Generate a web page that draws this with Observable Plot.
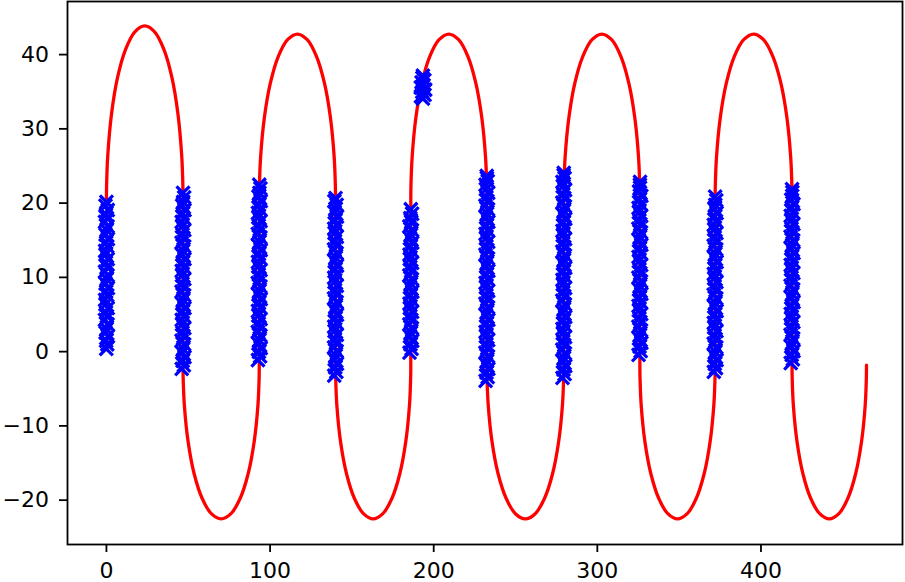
<!DOCTYPE html>
<html>
<head>
<meta charset="utf-8">
<script src="https://cdn.jsdelivr.net/npm/d3@7"></script>
<script src="https://cdn.jsdelivr.net/npm/@observablehq/plot@0.6"></script>
<style>
  html, body { margin: 0; padding: 0; background: #fff; }
  #chart { width: 905px; height: 582px; }
</style>
</head>
<body>
<div id="chart"></div>
<script>
// Red path (half-ellipse arcs), x values
const redX = [
  0, 0.09, 0.80, 3.14, 6.83, 11.70, 17.36, 23.40, 29.44, 35.10, 39.97, 43.66, 46.00, 46.71, 46.8,
  46.8, 46.89, 47.59, 49.92, 53.60, 58.45, 64.09, 70.1, 76.11, 81.75, 86.60, 90.28, 92.61, 93.31, 93.4,
  93.4, 93.49, 94.19, 96.52, 100.20, 105.05, 110.69, 116.7, 122.71, 128.35, 133.20, 136.88, 139.21, 139.91, 140.0,
  140, 140.09, 140.78, 143.08, 146.72, 151.5, 157.07, 163, 168.93, 174.5, 179.28, 182.92, 185.22, 185.91, 186,
  186, 186.09, 186.79, 189.12, 192.79, 197.63, 203.25, 209.25, 215.25, 220.88, 225.71, 229.38, 231.71, 232.41, 232.5,
  232.5, 232.59, 233.3, 235.65, 239.36, 244.25, 249.94, 256, 262.06, 267.75, 272.64, 276.35, 278.7, 279.41, 279.5,
  279.5, 279.59, 280.29, 282.62, 286.29, 291.13, 296.75, 302.75, 308.75, 314.38, 319.21, 322.88, 325.21, 325.91, 326,
  326, 326.09, 326.78, 329.08, 332.72, 337.5, 343.07, 349, 354.93, 360.5, 365.28, 368.92, 371.22, 371.91, 372,
  372, 372.09, 372.8, 375.15, 378.86, 383.75, 389.44, 395.5, 401.56, 407.25, 412.14, 415.85, 418.2, 418.91, 419,
  419, 419.09, 419.77, 422.05, 425.64, 430.38, 435.88, 441.75, 447.62, 453.13, 457.86, 461.45, 463.73, 464.41, 464.5
];
const redY = [
  20, 22.05, 26.11, 31.8, 36.69, 40.44, 42.8, 43.6, 42.8, 40.44, 36.69, 31.8, 26.11, 22.05, 20,
  -2, -3.81, -7.39, -12.4, -16.71, -20.01, -22.09, -22.8, -22.09, -20.01, -16.71, -12.4, -7.39, -3.81, -2,
  20, 21.96, 25.83, 31.25, 35.91, 39.49, 41.74, 42.5, 41.74, 39.49, 35.91, 31.25, 25.83, 21.96, 20,
  -2, -3.81, -7.39, -12.4, -16.71, -20.01, -22.09, -22.8, -22.09, -20.01, -16.71, -12.4, -7.39, -3.81, -2,
  20, 21.96, 25.83, 31.25, 35.91, 39.49, 41.74, 42.5, 41.74, 39.49, 35.91, 31.25, 25.83, 21.96, 20,
  -2, -3.81, -7.39, -12.4, -16.71, -20.01, -22.09, -22.8, -22.09, -20.01, -16.71, -12.4, -7.39, -3.81, -2,
  20, 21.96, 25.83, 31.25, 35.91, 39.49, 41.74, 42.5, 41.74, 39.49, 35.91, 31.25, 25.83, 21.96, 20,
  -2, -3.81, -7.39, -12.4, -16.71, -20.01, -22.09, -22.8, -22.09, -20.01, -16.71, -12.4, -7.39, -3.81, -2,
  20, 21.96, 25.83, 31.25, 35.91, 39.49, 41.74, 42.5, 41.74, 39.49, 35.91, 31.25, 25.83, 21.96, 20,
  -2, -3.81, -7.39, -12.4, -16.71, -20.01, -22.09, -22.8, -22.09, -20.01, -16.71, -12.4, -7.39, -3.81, -2.1
];

// Blue "x" marker clusters [x, y]
const cluster1 = [[-0.1,0.1],[0.5,0.7],[-0.2,1.2],[0.9,1.8],[-0.5,2.3],[0.1,2.8],[0.7,3.4],[-0.9,4.0],[0.3,4.5],[-0.3,5.0],[0.8,5.6],[-0.6,6.1],
  [-0.8,6.7],[0.5,7.3],[-0.2,7.8],[0.9,8.3],[-0.5,8.9],[0.1,9.5],[0.7,10.0],[-0.9,10.5],[0.3,11.1],[-0.3,11.7],[0.8,12.2],[-0.6,12.8],
  [-0.8,13.3],[0.5,13.9],[-0.2,14.4],[0.9,14.9],[-0.5,15.5],[0.1,16.1],[0.7,16.6],[-0.9,17.2],[0.3,17.7],[-0.3,18.2],[0.8,18.8],[-0.6,19.4],[0.0,19.9]];
const cluster2 = [[46.0,-2.6],[47.3,-2.1],[46.6,-1.5],[47.7,-1.0],[46.3,-0.4],[46.9,0.1],[47.5,0.7],[45.9,1.2],[47.1,1.8],[46.5,2.3],[47.6,2.9],[46.2,3.4],
  [46.0,4.0],[47.3,4.5],[46.6,5.1],[47.7,5.6],[46.3,6.2],[46.9,6.7],[47.5,7.3],[45.9,7.8],[47.1,8.4],[46.5,8.9],[47.6,9.5],[46.2,10.0],
  [46.0,10.6],[47.3,11.1],[46.6,11.7],[47.7,12.2],[46.3,12.8],[46.9,13.3],[47.5,13.9],[45.9,14.4],[47.1,15.0],[46.5,15.5],[47.6,16.1],[46.2,16.6],
  [46.0,17.2],[47.3,17.7],[46.6,18.3],[47.7,18.8],[46.3,19.4],[46.9,19.9],[47.5,20.5],[46.8,21.1]];
const cluster3 = [[92.6,-1.4],[93.9,-0.9],[93.2,-0.3],[94.3,0.2],[92.9,0.8],[93.5,1.3],[94.1,1.9],[92.5,2.4],[93.7,3.0],[93.1,3.5],[94.2,4.1],[92.8,4.6],
  [92.6,5.2],[93.9,5.7],[93.2,6.3],[94.3,6.8],[92.9,7.4],[93.5,7.9],[94.1,8.5],[92.5,9.0],[93.7,9.6],[93.1,10.1],[94.2,10.7],[92.8,11.2],
  [92.6,11.8],[93.9,12.3],[93.2,12.9],[94.3,13.4],[92.9,14.0],[93.5,14.5],[94.1,15.1],[92.5,15.6],[93.7,16.2],[93.1,16.7],[94.2,17.3],[92.8,17.8],
  [92.6,18.4],[93.9,18.9],[93.2,19.5],[94.3,20.0],[92.9,20.6],[93.5,21.1],[94.1,21.7],[93.4,22.2]];
const cluster4 = [[139.2,-3.5],[140.5,-3.0],[139.8,-2.4],[140.9,-1.9],[139.5,-1.3],[140.1,-0.8],[140.7,-0.2],[139.1,0.3],[140.3,0.9],[139.7,1.4],[140.8,2.0],[139.4,2.5],
  [139.2,3.1],[140.5,3.6],[139.8,4.2],[140.9,4.7],[139.5,5.3],[140.1,5.8],[140.7,6.4],[139.1,6.9],[140.3,7.5],[139.7,8.0],[140.8,8.6],[139.4,9.1],
  [139.2,9.7],[140.5,10.2],[139.8,10.8],[140.9,11.3],[139.5,11.9],[140.1,12.4],[140.7,13.0],[139.1,13.5],[140.3,14.1],[139.7,14.6],[140.8,15.2],[139.4,15.7],
  [139.2,16.3],[140.5,16.8],[139.8,17.4],[140.9,17.9],[139.5,18.5],[140.1,19.0],[140.7,19.5],[139.3,20.0],[140.0,20.4]];
const cluster5 = [[185.2,-0.4],[186.5,0.1],[185.8,0.7],[186.9,1.2],[185.5,1.8],[186.1,2.3],[186.7,2.9],[185.1,3.4],[186.3,4.0],[185.7,4.5],[186.8,5.1],[185.4,5.6],
  [185.2,6.2],[186.5,6.7],[185.8,7.3],[186.9,7.8],[185.5,8.4],[186.1,8.9],[186.7,9.5],[185.1,10.0],[186.3,10.6],[185.7,11.1],[186.8,11.7],[185.4,12.2],
  [185.2,12.8],[186.5,13.3],[185.8,13.9],[186.9,14.4],[185.5,15.0],[186.1,15.5],[186.7,16.1],[185.1,16.6],[186.3,17.2],[185.7,17.7],[186.8,18.3],[186.0,18.9]];
const cluster6 = [[231.7,-4.2],[233.0,-3.7],[232.3,-3.1],[233.4,-2.6],[232.0,-2.0],[232.6,-1.5],[233.2,-0.9],[231.6,-0.4],[232.8,0.2],[232.2,0.7],[233.3,1.3],[231.9,1.8],
  [231.7,2.4],[233.0,2.9],[232.3,3.5],[233.4,4.0],[232.0,4.6],[232.6,5.1],[233.2,5.7],[231.6,6.2],[232.8,6.8],[232.2,7.3],[233.3,7.9],[231.9,8.4],
  [231.7,9.0],[233.0,9.5],[232.3,10.1],[233.4,10.6],[232.0,11.2],[232.6,11.7],[233.2,12.3],[231.6,12.8],[232.8,13.4],[232.2,13.9],[233.3,14.5],[231.9,15.0],
  [231.7,15.6],[233.0,16.1],[232.3,16.7],[233.4,17.2],[232.0,17.8],[232.6,18.3],[233.2,18.9],[231.6,19.4],[232.8,20.0],[232.2,20.5],[233.3,21.1],[231.9,21.6],
  [231.7,22.2],[233.0,22.7],[232.5,23.1],[232.4,23.4]];
const cluster7 = [[278.7,-3.8],[280.0,-3.3],[279.3,-2.7],[280.4,-2.2],[279.0,-1.6],[279.6,-1.1],[280.2,-0.5],[278.6,0.0],[279.8,0.6],[279.2,1.1],[280.3,1.7],[278.9,2.2],
  [278.7,2.8],[280.0,3.3],[279.3,3.9],[280.4,4.4],[279.0,5.0],[279.6,5.5],[280.2,6.1],[278.6,6.6],[279.8,7.2],[279.2,7.7],[280.3,8.3],[278.9,8.8],
  [278.7,9.4],[280.0,9.9],[279.3,10.5],[280.4,11.0],[279.0,11.6],[279.6,12.1],[280.2,12.7],[278.6,13.2],[279.8,13.8],[279.2,14.3],[280.3,14.9],[278.9,15.4],
  [278.7,16.0],[280.0,16.5],[279.3,17.1],[280.4,17.6],[279.0,18.2],[279.6,18.7],[280.2,19.3],[278.6,19.8],[279.8,20.4],[279.2,20.9],[280.3,21.5],[278.9,22.0],
  [278.7,22.6],[280.0,23.1],[279.4,23.5],[279.5,23.8]];
const cluster8 = [[325.2,-0.7],[326.5,-0.2],[325.8,0.4],[326.9,0.9],[325.5,1.5],[326.1,2.0],[326.7,2.6],[325.1,3.1],[326.3,3.7],[325.7,4.2],[326.8,4.8],[325.4,5.3],
  [325.2,5.9],[326.5,6.4],[325.8,7.0],[326.9,7.5],[325.5,8.1],[326.1,8.6],[326.7,9.2],[325.1,9.7],[326.3,10.3],[325.7,10.8],[326.8,11.4],[325.4,11.9],
  [325.2,12.5],[326.5,13.0],[325.8,13.6],[326.9,14.1],[325.5,14.7],[326.1,15.2],[326.7,15.8],[325.1,16.3],[326.3,16.9],[325.7,17.4],[326.8,18.0],[325.4,18.5],
  [325.2,19.1],[326.5,19.6],[325.8,20.2],[326.9,20.7],[325.5,21.3],[326.1,21.8],[326.0,22.2],[326.1,22.6]];
const cluster9 = [[371.2,-3.0],[372.5,-2.5],[371.8,-1.9],[372.9,-1.4],[371.5,-0.8],[372.1,-0.3],[372.7,0.3],[371.1,0.8],[372.3,1.4],[371.7,1.9],[372.8,2.5],[371.4,3.0],
  [371.2,3.6],[372.5,4.1],[371.8,4.7],[372.9,5.2],[371.5,5.8],[372.1,6.3],[372.7,6.9],[371.1,7.4],[372.3,8.0],[371.7,8.5],[372.8,9.1],[371.4,9.6],
  [371.2,10.2],[372.5,10.7],[371.8,11.3],[372.9,11.8],[371.5,12.4],[372.1,12.9],[372.7,13.5],[371.1,14.0],[372.3,14.6],[371.7,15.1],[372.8,15.7],[371.4,16.2],
  [371.2,16.8],[372.5,17.3],[371.8,17.9],[372.9,18.4],[371.5,19.0],[372.1,19.5],[372.7,20.1],[372.0,20.6]];
const cluster10 = [[418.2,-1.8],[419.5,-1.3],[418.8,-0.7],[419.9,-0.2],[418.5,0.4],[419.1,0.9],[419.7,1.5],[418.1,2.0],[419.3,2.6],[418.7,3.1],[419.8,3.7],[418.4,4.2],
  [418.2,4.8],[419.5,5.3],[418.8,5.9],[419.9,6.4],[418.5,7.0],[419.1,7.5],[419.7,8.1],[418.1,8.6],[419.3,9.2],[418.7,9.7],[419.8,10.3],[418.4,10.8],
  [418.2,11.4],[419.5,11.9],[418.8,12.5],[419.9,13.0],[418.5,13.6],[419.1,14.1],[419.7,14.7],[418.1,15.2],[419.3,15.8],[418.7,16.3],[419.8,16.9],[418.4,17.4],
  [418.2,18.0],[419.5,18.5],[418.8,19.1],[419.9,19.6],[418.5,20.2],[419.1,20.7],[419.2,21.2],[419.0,21.6]];
const clusterBlob = [[193.4,33.8],[192.2,34.1],[194.4,34.3],[193.0,34.7],[194.8,35.0],[192.1,35.3],[193.8,35.6],[192.6,36.0],[194.3,36.3],[193.1,36.6],[193.4,36.9]];

const xTicks = [0, 100, 200, 300, 400];
const yTicks = [-20, -10, 0, 10, 20, 30, 40];

const redPath = redX.map((x, i) => ({x, y: redY[i]}));
const bluePts = [cluster1, cluster2, cluster3, cluster4, cluster5, clusterBlob, cluster6, cluster7, cluster8, cluster9, cluster10]
  .flat().map(([x, y]) => ({x, y}));

const chart = Plot.plot({
  width: 905,
  height: 582,
  marginLeft: 67,
  marginRight: 3,
  marginTop: 1,
  marginBottom: 38,
  style: {fontFamily: "DejaVu Sans", fontSize: "22px", color: "black", background: "white"},
  x: {domain: [-23.8, 486.5], label: null},
  y: {domain: [-26.24, 46.88], label: null},
  marks: [
    Plot.line(redPath, {x: "x", y: "y", stroke: "#ff0000", strokeWidth: 3.3, curve: "catmull-rom"}),
    Plot.dot(bluePts, {x: "x", y: "y", symbol: "times", r: 6, stroke: "#0000ff", strokeWidth: 3.2}),
    Plot.frame({stroke: "black", strokeWidth: 1.8}),
    Plot.axisX({ticks: xTicks, tickSize: 8, tickPadding: 10, strokeWidth: 1.8, fontSize: 22, label: null}),
    Plot.axisY({ticks: yTicks, tickSize: 8, tickPadding: 10.5, strokeWidth: 1.8, fontSize: 22, dy: 2, label: null})
  ]
});
document.getElementById("chart").appendChild(chart);
</script>
</body>
</html>
